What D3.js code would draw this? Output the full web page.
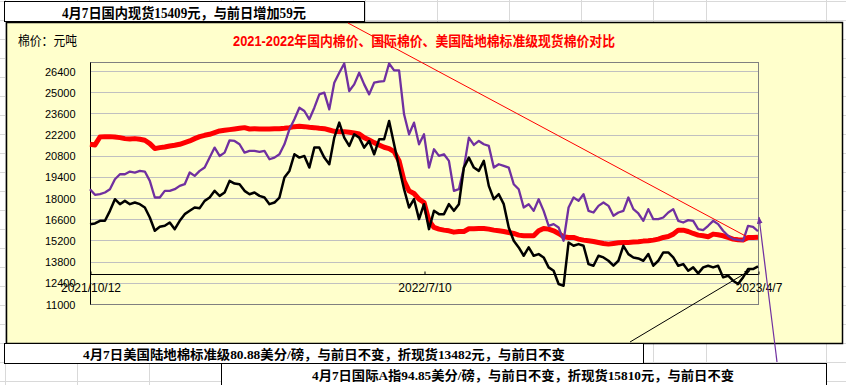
<!DOCTYPE html>
<html>
<head>
<meta charset="utf-8">
<script src="https://cdn.jsdelivr.net/npm/d3@7"></script>
<style>
  body { margin: 0; background: #fff; }
  svg { display: block; }
</style>
</head>
<body>
<div id="chart"></div>
<script>
// ---- data ----
const xTickLabels = ["2021/10/12", "2022/7/10", "2023/4/7"];
const yTicks = [11000, 12400, 13800, 15200, 16600, 18000, 19400, 20800, 22200, 23600, 25000, 26400];

// 国内现货 (red)
const domestic = [
  21560, 21516, 22044, 22066, 22066, 22044, 22000, 21934, 21912, 21934,
  21890, 21824, 21604, 21274, 21340, 21384, 21450, 21494, 21560, 21670,
  21780, 21934, 22066, 22154, 22220, 22330, 22440, 22484, 22528, 22572,
  22616, 22660, 22572, 22594, 22572, 22572, 22572, 22594, 22594, 22616,
  22660, 22726, 22748, 22726, 22682, 22660, 22616, 22594, 22506, 22418,
  22396, 22396, 22352, 22308, 22242, 22000, 21846, 21670, 21516, 21362,
  21274, 21076, 20460, 19140, 18480, 18304, 17930, 17710, 16500, 16060,
  15950, 15884, 15840, 15752, 15796, 15796, 15972, 15972, 15994, 15994,
  15950, 15884, 15840, 15796, 15730, 15664, 15554, 15510, 15510, 15510,
  15840, 15994, 15950, 15840, 15664, 15444, 15400, 15400, 15290, 15224,
  15180, 15136, 15070, 15004, 14960, 15004, 15048, 15070, 15070, 15092,
  15114, 15158, 15180, 15224, 15290, 15400, 15466, 15620, 15884, 15884,
  15796, 15664, 15554, 15510, 15444, 15620, 15576, 15510, 15400, 15290,
  15246, 15224, 15400, 15400, 15409
];

// 国际A指折现货 (purple)
const intlIndex = [
  18590, 18216, 18260, 18370, 18590, 19250, 19580, 19580, 19756, 19690,
  19800, 19756, 19140, 18040, 18040, 18480, 18480, 18590, 18810, 18920,
  19690, 19470, 19800, 20020, 20680, 21340, 20790, 21010, 21824, 21780,
  21560, 21010, 21120, 21120, 21054, 21120, 20570, 20680, 20900, 21560,
  22550, 23210, 23980, 23760, 23210, 23980, 24860, 24970, 23870, 25630,
  26290, 26900, 25080, 25520, 26290, 25520, 24860, 25630, 25696, 25740,
  26900, 26444, 26444, 23540, 22220, 22990, 21560, 22220, 20020, 21230,
  20790, 20900, 20460, 18480, 18590, 20020, 22000, 21516, 21780, 21560,
  21450, 20020, 20240, 20130, 20020, 18920, 18590, 17380, 17600, 17160,
  17930, 17160, 16170, 16280, 16060, 15180, 17380, 18040, 17820, 18260,
  17160, 17050, 17490, 17710, 17490, 16830, 17050, 17160, 18040, 17270,
  16984, 16500, 17270, 16610, 16610, 16720, 17050, 17270, 16500, 16390,
  16544, 16500, 15950, 15884, 16170, 16500, 16280, 15840, 15510, 15290,
  15246, 15180, 16170, 16104, 15810
];

// 美国陆地棉标准级折现货 (black)
const usUpland = [
  16280, 16324, 16500, 16500, 17160, 17930, 17600, 17820, 17600, 17710,
  17600, 17380, 16720, 15840, 16104, 16170, 16390, 15950, 16500, 16940,
  17160, 17380, 17336, 17820, 18040, 18480, 18150, 18370, 19140, 18964,
  18920, 18480, 18260, 18370, 18150, 18040, 17600, 17710, 18040, 19360,
  19800, 20900, 20680, 20790, 20020, 21340, 21340, 20680, 20240, 22000,
  22990, 22000, 21450, 22220, 22000, 21340, 21780, 20900, 21890, 21890,
  23100, 21560, 20020, 18590, 17380, 17930, 16610, 17600, 15950, 17160,
  16940, 16940, 17600, 17160, 17600, 20020, 20680, 20020, 19800, 20460,
  18810, 17930, 18260, 17600, 16060, 15180, 14740, 14190, 14740, 14190,
  14300, 14080, 13420, 13200, 12320, 12210, 15070, 14850, 14960, 14850,
  13640, 13530, 14190, 14080, 13860, 13530, 13860, 14850, 14300, 14080,
  14014, 13860, 14300, 13530, 13860, 14410, 14410, 14080, 13530, 13640,
  13200, 13420, 13024, 13420, 13530, 13420, 13530, 12760, 12870, 12540,
  12320, 12760, 13310, 13310, 13482
];

const topNote = "4月7日国内现货15409元，与前日增加59元";
const usNote = "4月7日美国陆地棉标准级80.88美分/磅，与前日不变，折现货13482元，与前日不变";
const intlNote = "4月7日国际A指94.85美分/磅，与前日不变，折现货15810元，与前日不变";
const unitLabel = "棉价：元吨";
const chartTitle = "2021-2022年国内棉价、国际棉价、美国陆地棉标准级现货棉价对比";

// ---- layout ----
const width = 846, height = 385;
const plot = { left: 90, right: 758, top: 62, bottom: 304 };
const yMin = 11000, yMax = 27000, xCross = 13000;

const svg = d3.select("#chart").append("svg")
  .attr("width", width)
  .attr("height", height);

// spreadsheet cell grid behind everything
const gridCols = [5, 77, 149, 221, 293, 365, 437, 509, 581, 653, 706, 826];
const gridRows = d3.range(1, 400, 19);
const sheet = svg.append("g").attr("stroke", "#d9d9d9").attr("stroke-width", 1);
gridCols.forEach(c => sheet.append("line").attr("x1", c + 0.5).attr("x2", c + 0.5).attr("y1", 0).attr("y2", height));
gridRows.forEach(r => sheet.append("line").attr("x1", 0).attr("x2", width).attr("y1", r + 0.5).attr("y2", r + 0.5));

// chart area
svg.append("rect")
  .attr("x", 6.5).attr("y", 22.5)
  .attr("width", 836).attr("height", 321)
  .attr("fill", "#FFFFCC")
  .attr("stroke", "#000").attr("stroke-width", 1.5);

const parse = d3.timeParse("%Y/%m/%d");
const tickDates = xTickLabels.map(parse);
const t0 = tickDates[0], t1 = tickDates[tickDates.length - 1];
const n = domestic.length;
const dates = d3.range(n).map(i => new Date(+t0 + (t1 - t0) * i / (n - 1)));

const x = d3.scaleTime().domain([t0, t1]).range([plot.left, plot.right]);
const y = d3.scaleLinear().domain([yMin, yMax]).range([plot.bottom, plot.top]);

// horizontal gridlines
const g = svg.append("g");
g.selectAll("line.grid")
  .data(yTicks.filter(v => v > yMin))
  .join("line")
  .attr("class", "grid")
  .attr("x1", plot.left).attr("x2", plot.right)
  .attr("y1", d => Math.round(y(d)) + 0.5).attr("y2", d => Math.round(y(d)) + 0.5)
  .attr("stroke", "#c0c0c0").attr("stroke-width", 1);

// plot border (grey) and value axis (black)
g.append("rect")
  .attr("x", plot.left + 0.5).attr("y", plot.top + 0.5)
  .attr("width", plot.right - plot.left).attr("height", plot.bottom - plot.top)
  .attr("fill", "none").attr("stroke", "#808080").attr("stroke-width", 1);

const yAxis = g.append("g")
  .attr("transform", `translate(${plot.left + 0.5},0.5)`)
  .call(d3.axisLeft(y).tickValues(yTicks).tickSize(0).tickPadding(15).tickFormat(d3.format("d")));
yAxis.select(".domain").attr("stroke", "#000").attr("d", `M0,${plot.top}V${plot.bottom}`);
yAxis.selectAll("text")
  .attr("font-family", "Liberation Sans, Arial, sans-serif")
  .attr("font-size", 11)
  .attr("fill", "#000");

// category axis crossing at 13000
const xAxis = g.append("g")
  .attr("transform", `translate(0.5,${Math.round(y(xCross)) + 0.5})`)
  .call(d3.axisTop(x).tickValues(tickDates).tickSize(3).tickFormat(""));
xAxis.select(".domain").attr("stroke", "#000").attr("d", `M${plot.left},0H${plot.right}`);
xAxis.selectAll(".tick line").attr("stroke", "#000");

g.selectAll("text.xlab")
  .data(tickDates)
  .join("text")
  .attr("class", "xlab")
  .attr("x", d => x(d) + 1)
  .attr("y", y(xCross) + 18)
  .attr("text-anchor", "middle")
  .attr("font-family", "Liberation Sans, Arial, sans-serif")
  .attr("font-size", 12)
  .attr("fill", "#000")
  .text((d, i) => xTickLabels[i]);

// series
const line = d3.line()
  .x((d, i) => x(dates[i]))
  .y(d => y(d));

const series = [
  { values: domestic, color: "#FF0000", width: 5 },
  { values: intlIndex, color: "#7030A0", width: 2.3 },
  { values: usUpland, color: "#000000", width: 2.5 },
];
series.forEach(s => {
  g.append("path")
    .datum(s.values)
    .attr("fill", "none")
    .attr("stroke", s.color)
    .attr("stroke-width", s.width)
    .attr("stroke-linejoin", "round")
    .attr("d", line);
});

// texts in chart area
svg.append("text")
  .attr("x", 18).attr("y", 45)
  .attr("font-family", "Noto Sans CJK SC, sans-serif")
  .attr("font-size", 13)
  .attr("textLength", 59).attr("lengthAdjust", "spacingAndGlyphs")
  .text(unitLabel);

svg.append("text")
  .attr("x", 233).attr("y", 46)
  .attr("font-family", "Liberation Sans, Noto Sans CJK SC, sans-serif")
  .attr("font-weight", "bold")
  .attr("font-size", 14)
  .attr("fill", "#FF0000")
  .attr("textLength", 382).attr("lengthAdjust", "spacingAndGlyphs")
  .text(chartTitle);

// note boxes
function noteBox(bx, by, bw, bh, tx, ty, tw, txt, size) {
  svg.append("rect")
    .attr("x", bx + 0.5).attr("y", by + 0.5)
    .attr("width", bw).attr("height", bh)
    .attr("fill", "#fff").attr("stroke", "#000").attr("stroke-width", 1);
  svg.append("text")
    .attr("x", tx).attr("y", ty)
    .attr("font-family", "Liberation Serif, Noto Sans CJK SC, serif")
    .attr("font-weight", "bold")
    .attr("font-size", size)
    .attr("textLength", tw).attr("lengthAdjust", "spacingAndGlyphs")
    .text(txt);
}
noteBox(4, 1, 360, 20, 62, 18, 244, topNote, 14);
noteBox(4, 343, 639, 20, 83, 359, 482, usNote, 13);
noteBox(221, 363, 605, 24, 312, 380, 422, intlNote, 13);

// pointer lines from the note boxes to the series ends
const last = n - 1;
const ptr = svg.append("g");
ptr.append("line")
  .attr("x1", 348).attr("y1", 23)
  .attr("x2", x(dates[last]) - 10).attr("y2", y(domestic[last]))
  .attr("stroke", "#FF0000").attr("stroke-width", 1);

svg.append("defs").selectAll("marker")
  .data([["arrBlack", "#000"], ["arrPurple", "#7030A0"]])
  .join("marker")
  .attr("id", d => d[0])
  .attr("viewBox", "0 0 10 10")
  .attr("refX", 9).attr("refY", 5)
  .attr("markerWidth", 6).attr("markerHeight", 6)
  .attr("orient", "auto")
  .append("path")
  .attr("d", "M0,1L10,5L0,9Z")
  .attr("fill", d => d[1]);

ptr.append("line")
  .attr("x1", 630).attr("y1", 342)
  .attr("x2", x(dates[last]) - 8).attr("y2", y(usUpland[last]) + 4)
  .attr("stroke", "#000").attr("stroke-width", 1)
  .attr("marker-end", "url(#arrBlack)");

ptr.append("line")
  .attr("x1", 777).attr("y1", 362)
  .attr("x2", x(dates[last]) + 1).attr("y2", y(intlIndex[last]) - 14)
  .attr("stroke", "#7030A0").attr("stroke-width", 1.2)
  .attr("marker-end", "url(#arrPurple)");
</script>
</body>
</html>
